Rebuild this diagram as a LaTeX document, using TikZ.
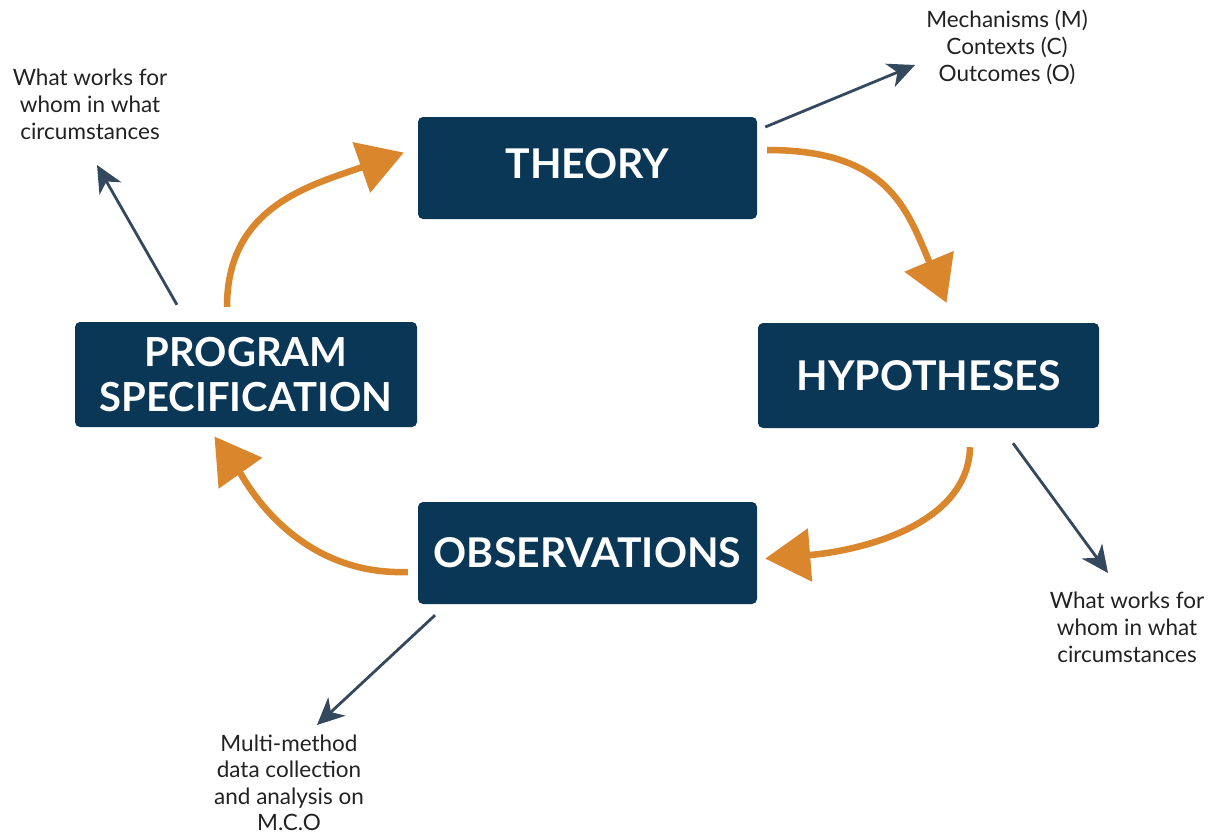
\documentclass[tikz,border=0pt]{standalone}
\usepackage{fontspec}
\setmainfont{Lato}
\usetikzlibrary{arrows.meta}
\definecolor{boxblue}{HTML}{0B3757}
\definecolor{flowc}{HTML}{D9862C}
\definecolor{slate}{HTML}{34495E}
\definecolor{txt}{HTML}{222222}
\begin{document}
\begin{tikzpicture}[x=1pt,y=-1pt,
  box/.style={fill=boxblue, rounded corners=5pt, text=white, font=\bfseries\fontsize{41}{45}\selectfont, align=center, inner sep=0pt},
  flowarrow/.style={draw=flowc, line width=6.5pt, -{Triangle[length=45pt,width=52pt]}},
  notearrow/.style={draw=slate, line width=2.8pt, -{Stealth[length=27pt,width=25pt,inset=8pt]}},
  lbl/.style={text=txt, font=\fontsize{22.5}{27}\selectfont, align=center, inner sep=0pt}]
\useasboundingbox (0,0) rectangle (1218,838);
\fill[white] (0,0) rectangle (1218,838);
% boxes
\node[box, minimum width=339pt, minimum height=102pt, text depth=8pt] (theory) at (587.5,168) {THEORY};
\node[box, minimum width=341pt, minimum height=105pt] (hyp) at (928.5,375.5) {HYPOTHESES};
\node[box, minimum width=339pt, minimum height=102pt] (obs) at (587.5,553) {OBSERVATIONS};
\node[box, minimum width=342pt, minimum height=105pt, font=\bfseries\fontsize{40}{45}\selectfont] (prog) at (246,374.5) {PROGRAM\\SPECIFICATION};
% labels
\node[lbl] (mco) at (1007,47) {Mechanisms (M)\\Contexts (C)\\Outcomes (O)};
\node[lbl] (wleft) at (90,104.5) {What works for\\whom in what\\circumstances};
\node[lbl] (wright) at (1127,627) {What works for\\whom in what\\circumstances};
\node[lbl, font=\fontsize{22.5}{26.5}\selectfont] (mmd) at (289,783) {Multi-method\\data collection\\and analysis on\\M.C.O};
% free ends of the note arrows
\coordinate (mcotip) at (915,65);
\coordinate (wlefttip) at (97,165);
\coordinate (wrighttip) at (1108,573);
\coordinate (mmdtip) at (317,725);
% cycle arrows
\draw[flowarrow] ([shift={(10,-18)}]theory.east) .. controls +(120,0) and +(-40,-95) .. ([shift={(18,-20)}]hyp.north);
\draw[flowarrow] ([shift={(41.5,19)}]hyp.south) .. controls +(-2,80) and +(90,-7.2) .. ([shift={(8,5.6)}]obs.east);
\draw[flowarrow] ([shift={(-10,19)}]obs.west) .. controls +(-115,4) and +(28.9,40.8) .. ([shift={(-31.5,9.3)}]prog.south);
\draw[flowarrow] ([shift={(-19,-15)}]prog.north) .. controls +(0,-100) and +(-94.5,33) .. ([shift={(-14,-15.4)}]theory.west);
% note arrows
\draw[notearrow] ([shift={(8,-41)}]theory.east) -- (mcotip);
\draw[notearrow] ([shift={(-69,-17)}]prog.north) -- (wlefttip);
\draw[notearrow] ([shift={(84.5,15)}]hyp.south) -- (wrighttip);
\draw[notearrow] ([shift={(-152.5,11)}]obs.south) -- (mmdtip);
\end{tikzpicture}
\end{document}
